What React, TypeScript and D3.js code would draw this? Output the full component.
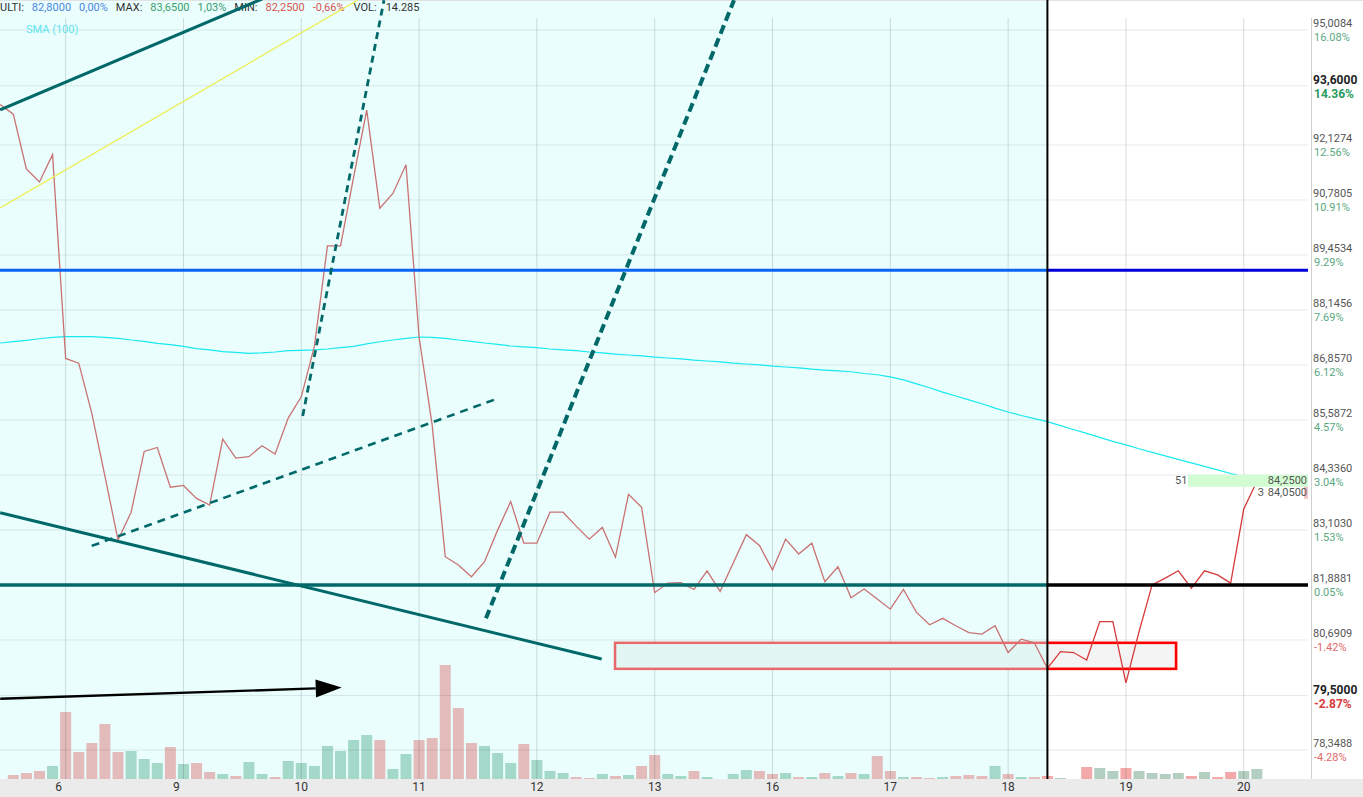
import React, { useEffect } from "react";
import * as d3 from "d3";

// ---------------- data ----------------
const dayLabels = ["6", "9", "10", "11", "12", "13", "16", "17", "18", "19", "20"];
const dayFirstBar = [5, 14, 23, 32, 41, 50, 59, 68, 77, 86, 95];

const closes = [
  93.13, 92.89, 91.54, 91.22, 91.89, 87.01, 86.9, 85.74, 84.31, 82.88,
  83.5, 84.87, 84.96, 84.06, 84.1, 83.81, 83.66, 85.15, 84.72, 84.75,
  85.0, 84.81, 85.63, 86.12, 87.29, 89.67, 89.67, 91.34, 92.99, 90.58,
  90.94, 91.64, 87.51, 85.47, 82.51, 82.33, 82.07, 82.4, 83.1, 83.74,
  82.81, 82.81, 83.5, 83.5, 83.19, 82.9, 83.16, 82.5, 83.9, 83.61,
  81.72, 81.93, 81.94, 81.79, 82.2, 81.75, 82.37, 83.0, 82.76, 82.22,
  82.9, 82.57, 82.81, 81.96, 82.29, 81.61, 81.8, 81.58, 81.36, 81.79,
  81.29, 81.02, 81.16, 81.0, 80.85, 80.82, 81.0, 80.42, 80.71, 80.63,
  80.08, 80.44, 80.42, 80.26, 81.09, 81.09, 79.77, 80.87, 81.89, 82.04,
  82.2, 81.82, 82.2, 82.11, 81.93, 83.57, 84.19,
];

const sma100 = [
  87.37, 87.4, 87.43, 87.47, 87.5, 87.52, 87.52, 87.52, 87.5, 87.48,
  87.44, 87.41, 87.36, 87.33, 87.29, 87.24, 87.21, 87.17, 87.15, 87.13,
  87.14, 87.16, 87.19, 87.2, 87.21, 87.23, 87.26, 87.29, 87.35, 87.4,
  87.44, 87.48, 87.51, 87.5, 87.48, 87.44, 87.41, 87.37, 87.34, 87.3,
  87.28, 87.26, 87.23, 87.21, 87.19, 87.16, 87.14, 87.11, 87.09, 87.07,
  87.04, 87.02, 87.0, 86.97, 86.95, 86.93, 86.9, 86.88, 86.86, 86.83,
  86.81, 86.79, 86.76, 86.74, 86.72, 86.7, 86.66, 86.63, 86.58, 86.51,
  86.42, 86.33, 86.23, 86.14, 86.05, 85.96, 85.86, 85.77, 85.69, 85.62,
  85.55, 85.46, 85.37, 85.28, 85.19, 85.1, 85.02, 84.93, 84.85, 84.77,
  84.69, 84.61, 84.53, 84.45, 84.37, 84.29, 84.21,
];

// hourly volume (thousand lots)
const volumes = [
  0, 4, 6, 8, 13, 67, 27, 36, 55, 27,
  28, 20, 16, 32, 15, 16, 7, 5, 3, 17,
  5, 2, 18, 16, 13, 33, 28, 39, 44, 39,
  10, 25, 39, 41, 114, 71, 36, 33, 26, 16,
  35, 19, 8, 6, 2, 1, 5, 3, 4, 13,
  24, 5, 3, 8, 2, 0, 5, 9, 8, 5,
  6, 2, 2, 6, 3, 6, 5, 23, 8, 2,
  2, 1, 2, 3, 4, 3, 13, 5, 2, 2,
  3, 1, 0, 12, 11, 8, 11, 8, 6, 5,
  6, 3, 7, 2, 7, 8, 10,
];
const volumeDirection = (
  "dddduddddd" + "uuududdudu" + "uduuuuuuud" + "uuddddduuu" + "duuuddudud" +
  "duuduuuudd" + "ududududdu" + "ddudddudud" + "duuduuduuu" + "ududduu"
).split("");

const priceTicks = [95.0084, 93.6, 92.1274, 90.7805, 89.4534, 88.1456, 86.857, 85.5872, 84.336, 83.103, 81.8881, 80.6909, 79.5, 78.3488];
const percentLabels = ["16.08%", "14.36%", "12.56%", "10.91%", "9.29%", "7.69%", "6.12%", "4.57%", "3.04%", "1.53%", "0.05%", "-1.42%", "-2.87%", "-4.28%"];
const boldPriceTicks = [93.6, 79.5];

const levelBlue = 89.09;
const levelTeal = 81.89;
const splitBar = 80;

const trendSolidUp = [[0, 93.0], [20, 95.8]];
const trendYellow = [[0, 90.59], [27.3, 95.77]];
const trendSteepA = [[23.11, 85.68], [29.32, 95.77]];
const trendSteepB = [[37.11, 81.16], [56.06, 95.77]];
const trendShallow = [[6.99, 82.75], [37.72, 86.05]];
const trendSolidDown = [[0, 83.49], [45.95, 80.28]];
const arrowLine = [[0, 79.43], [26.09, 79.67]];
const zoneBox = { from: 46.97, to: 89.83, top: 80.63, bottom: 80.07 };

const headerFields = [
  { label: "ULTI:", value: "82,8000", pct: "0,00%", color: "#4a86e0" },
  { label: "MAX:", value: "83,6500", pct: "1,03%", color: "#3c9d6b" },
  { label: "MIN:", value: "82,2500", pct: "-0,66%", color: "#d9534f" },
];
const headerVolume = "14.285";
const bid = { size: 51, price: 84.25 };
const ask = { size: 3, price: 84.05 };

// ---------------- component ----------------
export default function App() {
  useEffect(() => {
    document.body.style.margin = "0";
  }, []);

  const W = 1363;
  const H = 797;
  const plotRight = 1308;
  const axisLineX = 1311.5;
  const volBase = 779;
  const gridTop = 18;
  const font = "Roboto, 'Noto Sans', sans-serif";

  const x = d3.scaleLinear().domain([0, 96]).range([0.2, 0.2 + 96 * 13.09]);
  const y = d3.scaleLog().domain([78.3488, 95.0084]).range([750, 30]);
  const yVol = d3.scaleLinear().domain([0, d3.max(volumes) as number]).range([volBase, 665]);
  const split = x(splitBar);

  const priceLine = d3.line<number>().x((_, i) => x(i)).y((d) => y(d))(closes) as string;
  const smaLine = d3.line<number>().x((_, i) => x(i)).y((d) => y(d))(sma100) as string;

  const seg = (p: number[][]) => ({ x1: x(p[0][0]), y1: y(p[0][1]), x2: x(p[1][0]), y2: y(p[1][1]) });
  const fmt = (v: number) => d3.format(".4f")(v).replace(".", ",");

  const a = seg(arrowLine);
  const ang = Math.atan2(a.y2 - a.y1, a.x2 - a.x1);
  const headLen = 26, headHalf = 9;
  const bx = a.x2 - headLen * Math.cos(ang), by = a.y2 - headLen * Math.sin(ang);
  const arrowHead = [
    [a.x2, a.y2],
    [bx - headHalf * Math.sin(ang), by + headHalf * Math.cos(ang)],
    [bx + headHalf * Math.sin(ang), by - headHalf * Math.cos(ang)],
  ].map((p) => p.join(",")).join(" ");

  const yb = y(bid.price);
  const tealCol = "#006868";

  const boxX = x(zoneBox.from), boxW = x(zoneBox.to) - x(zoneBox.from);
  const boxY = y(zoneBox.top), boxH = y(zoneBox.bottom) - y(zoneBox.top);

  return (
    <svg width={W} height={H} style={{ display: "block", position: "absolute", left: 0, top: 0 }} fontFamily={font}>
      <defs>
        <clipPath id="leftClip"><rect x={0} y={0} width={split} height={volBase} /></clipPath>
        <clipPath id="rightClip"><rect x={split} y={0} width={plotRight - split} height={volBase} /></clipPath>
        <clipPath id="plotClip"><rect x={0} y={0} width={plotRight} height={volBase} /></clipPath>
      </defs>
      <rect x={0} y={0} width={W} height={H} fill="#ffffff" />
      <rect x={0} y={0} width={split - 0.6} height={volBase} fill="#eafefe" />
      <line x1={0} x2={W} y1={0.5} y2={0.5} stroke="#e2e2e2" />

      {/* volume bars */}
      <g clipPath="url(#plotClip)">
        {volumes.map((v, i) => {
          const left = x(i) < split;
          const up = volumeDirection[i] === "u";
          const fill = left ? (up ? "#a4d8c9" : "#e3bbbb") : (up ? "#b2cfc1" : "#f3a9a9");
          return <rect key={i} x={x(i) - 5.5} y={yVol(v)} width={11} height={volBase - yVol(v)} fill={fill} />;
        })}
      </g>

      {/* grid */}
      <g>
        {priceTicks.map((t, i) => (
          <line key={i} x1={0} x2={plotRight} y1={y(t)} y2={y(t)} stroke="#000" strokeOpacity={0.085} />
        ))}
        {dayFirstBar.map((b, i) => (
          <line key={i} x1={x(b)} x2={x(b)} y1={gridTop} y2={volBase} stroke="#000" strokeOpacity={0.14} />
        ))}
      </g>

      {/* zone rectangle */}
      <g clipPath="url(#leftClip)">
        <rect x={boxX} y={boxY} width={boxW} height={boxH} fill="#e2f6f4" stroke="#e86a6a" strokeWidth={2.5} />
      </g>
      <g clipPath="url(#rightClip)">
        <rect x={boxX} y={boxY} width={boxW} height={boxH} fill="#f4f4f4" stroke="#ff0000" strokeWidth={2.6} />
      </g>

      {/* SMA */}
      <path d={smaLine} fill="none" stroke="#18e8f0" strokeWidth={1.2} />

      {/* price */}
      <g clipPath="url(#leftClip)">
        <path d={priceLine} fill="none" stroke="#c97272" strokeWidth={1.3} />
      </g>
      <g clipPath="url(#rightClip)">
        <path d={priceLine} fill="none" stroke="#d63a3a" strokeWidth={1.3} />
      </g>

      {/* header */}
      <text x={0} y={11} fontSize={11} fill="#333">
        {headerFields.map((f, i) => (
          <React.Fragment key={i}>
            <tspan dx={i === 0 ? 0 : 8} fill="#333">{f.label}</tspan>
            <tspan dx={8} fill={f.color}>{f.value}</tspan>
            <tspan dx={8} fill={f.color}>{f.pct}</tspan>
          </React.Fragment>
        ))}
        <tspan dx={9} fill="#333">VOL:</tspan>
        <tspan dx={9} fill="#333">{headerVolume}</tspan>
      </text>
      <text x={26} y={33} fontSize={11} fill="#62e4ee">SMA (100)</text>

      {/* level lines */}
      <line x1={0} x2={split} y1={y(levelBlue)} y2={y(levelBlue)} stroke="#0a66f2" strokeWidth={3} />
      <line x1={split} x2={plotRight} y1={y(levelBlue)} y2={y(levelBlue)} stroke="#0000d8" strokeWidth={3} />
      <line x1={0} x2={split} y1={y(levelTeal)} y2={y(levelTeal)} stroke={tealCol} strokeWidth={3.5} />
      <line x1={split} x2={plotRight} y1={y(levelTeal)} y2={y(levelTeal)} stroke="#000" strokeWidth={3.5} />

      {/* trend lines */}
      <line {...seg(trendYellow)} stroke="#eeee55" strokeWidth={1.3} />
      <line {...seg(trendSolidUp)} stroke={tealCol} strokeWidth={3} />
      <line {...seg(trendSolidDown)} stroke={tealCol} strokeWidth={3} />
      <line {...seg(trendShallow)} stroke={tealCol} strokeWidth={2.6} strokeDasharray="8,6" />
      <line {...seg(trendSteepA)} stroke={tealCol} strokeWidth={2.8} strokeDasharray="7,5" />
      <line {...seg(trendSteepB)} stroke={tealCol} strokeWidth={4} strokeDasharray="9,5" />
      <line x1={a.x1} y1={a.y1} x2={bx} y2={by} stroke="#000" strokeWidth={2.4} />
      <polygon points={arrowHead} fill="#000" />

      {/* split marker */}
      <line x1={split} x2={split} y1={0} y2={volBase} stroke="#000" strokeWidth={2} />

      {/* bid / ask */}
      <rect x={1188} y={yb - 4} width={plotRight - 1188} height={12} fill="#d2fdd2" />
      <rect x={1304} y={yb + 8} width={4} height={12} fill="#f5c4c4" />
      <text x={1175} y={yb + 5} fontSize={11} fill="#555">{bid.size}</text>
      <text x={1307} y={yb + 5} fontSize={11} fill="#555" textAnchor="end">{fmt(bid.price)}</text>
      <text x={1264} y={yb + 17} fontSize={11} fill="#555" textAnchor="end">{ask.size}</text>
      <text x={1307} y={yb + 17} fontSize={11} fill="#555" textAnchor="end">{fmt(ask.price)}</text>

      {/* right axis */}
      <line x1={axisLineX} x2={axisLineX} y1={gridTop} y2={volBase} stroke="#d0d0d0" />
      {priceTicks.map((t, i) => {
        const bold = boldPriceTicks.includes(t);
        const neg = percentLabels[i].startsWith("-");
        return (
          <g key={i}>
            <text x={1313} y={y(t) - (bold ? 2 : 3)} fontSize={bold ? 12 : 11} fontWeight={bold ? 700 : 400} fill={bold ? "#222" : "#555"}>
              {fmt(t)}
            </text>
            <text x={1314} y={y(t) + (bold ? 12 : 11)} fontSize={bold ? 12 : 11} fontWeight={bold ? 700 : 400}
              fill={neg ? (bold ? "#d83a3a" : "#e06a6a") : (bold ? "#2a9a5e" : "#5aa87f")}>
              {percentLabels[i]}
            </text>
          </g>
        );
      })}

      {/* bottom axis */}
      <rect x={0} y={volBase} width={W} height={H - volBase} fill="#ebebeb" />
      {dayFirstBar.map((b, i) => (
        <text key={i} x={x(b) - (dayLabels[i].length === 1 ? 7 : 0)} y={791} fontSize={12} fill="#333" textAnchor="middle">
          {dayLabels[i]}
        </text>
      ))}
    </svg>
  );
}
